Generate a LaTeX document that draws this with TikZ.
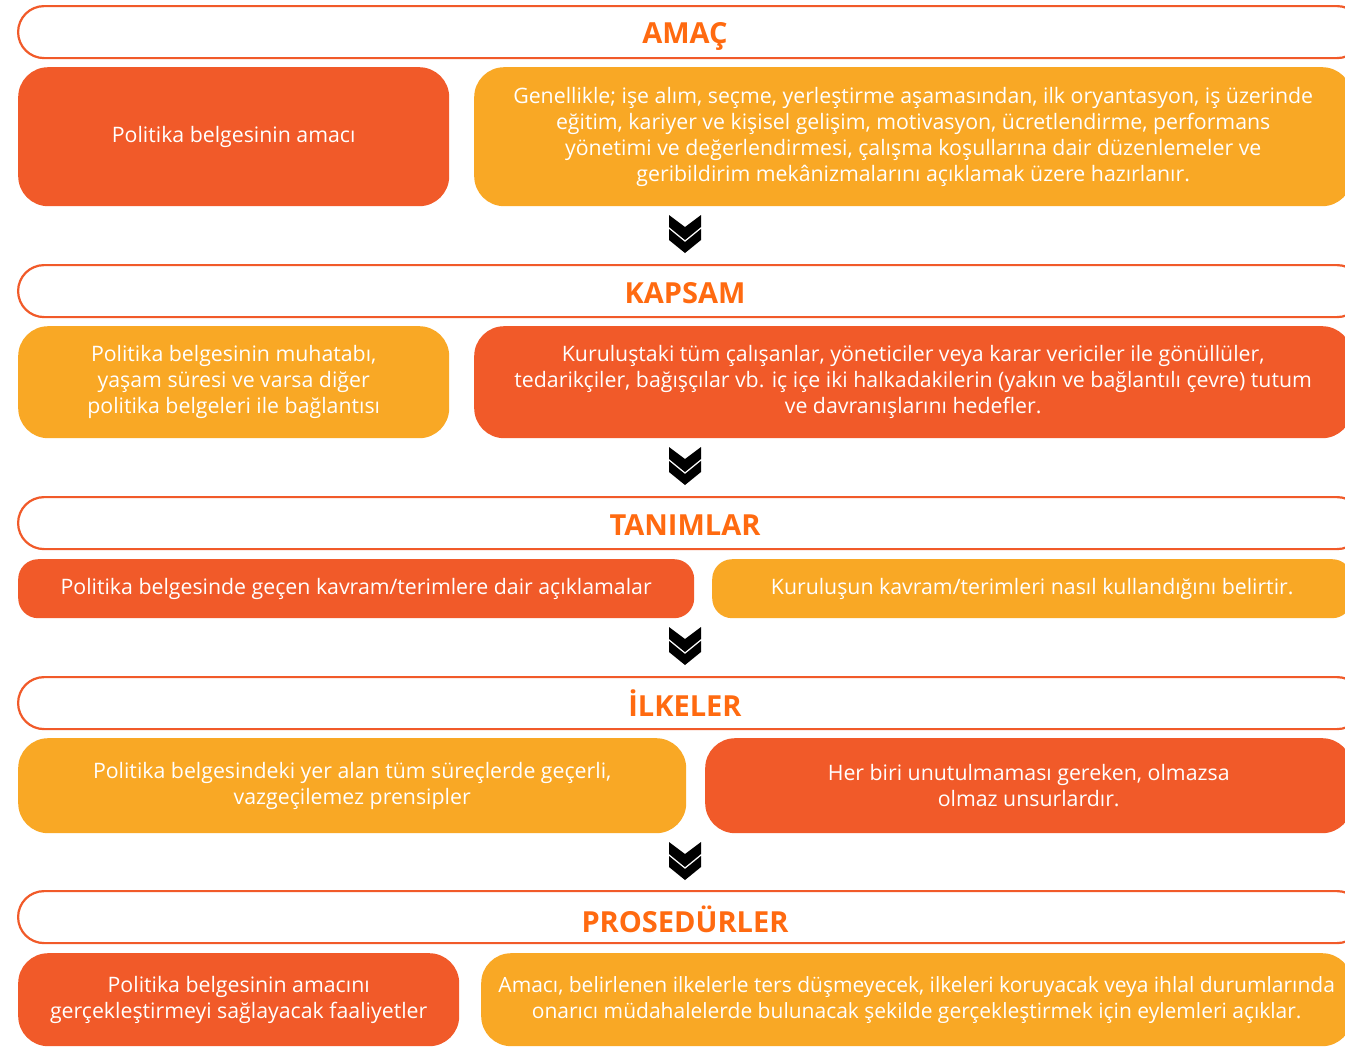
\documentclass[tikz,border=0pt]{standalone}
\usepackage{fontspec}
\setmainfont{Open Sans}
\usepackage{tikz}
\definecolor{koyu}{HTML}{F15A29}
\definecolor{sari}{HTML}{F9A825}
\definecolor{baslik}{HTML}{FF6A10}
\tikzset{
  hdr/.style={draw=koyu, line width=2.2pt, fill=white, rounded corners=26pt,
    minimum height=52pt, anchor=north west},
  htxt/.style={text=baslik, font=\fontsize{29}{34}\selectfont\bfseries},
  kbox/.style={fill=koyu, rounded corners=30pt, anchor=north west, text=white,
    align=center, font=\fontsize{21.3}{26}\selectfont},
  sbox/.style={kbox, fill=sari},
  chev/.pic={
    \fill[black] (-16,0) -- (0,12) -- (16,0) -- (16,12) -- (0,25) -- (-16,12) -- cycle;
    \fill[black] (-16,14) -- (0,27) -- (16,14) -- (16,25) -- (0,38) -- (-16,25) -- cycle;
  }
}
\begin{document}
\begin{tikzpicture}[x=1pt,y=-1pt]
  \clip (0,0) rectangle (1345,1050);
  \fill[white] (0,0) rectangle (1345,1050);
  % AMAC
  \node[hdr, minimum width=1345] (h1) at (17,5) {};
  \node[htxt] (t1) at (685,36) {AMAÇ};
  \node[kbox, minimum width=431, minimum height=139] (l1) at (18,67) {Politika belgesinin amacı};
  \node[sbox, minimum width=878, minimum height=139] (r1) at (474,67)
    {Genellikle; işe alım, seçme, yerleştirme aşamasından, ilk oryantasyon, iş üzerinde\\
     eğitim, kariyer ve kişisel gelişim, motivasyon, ücretlendirme, performans\\
     yönetimi ve değerlendirmesi, çalışma koşullarına dair düzenlemeler ve\\
     geribildirim mekânizmalarını açıklamak üzere hazırlanır.};
  \coordinate (a1) at (685,215);
  \pic at (a1) {chev};
  % KAPSAM
  \node[hdr, minimum width=1345] (h2) at (17,264) {};
  \node[htxt] (t2) at (685,293) {KAPSAM};
  \node[sbox, minimum width=431, minimum height=112] (l2) at (18,326)
    {Politika belgesinin muhatabı,\\ yaşam süresi ve varsa diğer\\ politika belgeleri ile bağlantısı};
  \node[kbox, minimum width=878, minimum height=112] (r2) at (474,326)
    {Kuruluştaki tüm çalışanlar, yöneticiler veya karar vericiler ile gönüllüler,\\
     tedarikçiler, bağışçılar vb. iç içe iki halkadakilerin (yakın ve bağlantılı çevre) tutum\\
     ve davranışlarını hedefler.};
  \coordinate (a2) at (685,447);
  \pic at (a2) {chev};
  % TANIMLAR
  \node[hdr, minimum width=1345] (h3) at (17,496) {};
  \node[htxt] (t3) at (685,525) {TANIMLAR};
  \node[kbox, rounded corners=20pt, minimum width=676, minimum height=59] (l3) at (18,559)
    {Politika belgesinde geçen kavram/terimlere dair açıklamalar};
  \node[sbox, rounded corners=20pt, minimum width=640, minimum height=59] (r3) at (712,559)
    {Kuruluşun kavram/terimleri nasıl kullandığını belirtir.};
  \coordinate (a3) at (685,627);
  \pic at (a3) {chev};
  % ILKELER
  \node[hdr, minimum width=1345] (h4) at (17,676) {};
  \node[htxt] (t4) at (685,703) {İLKELER};
  \node[sbox, minimum width=668, minimum height=95] (l4) at (18,738)
    {Politika belgesindeki yer alan tüm süreçlerde geçerli,\\ vazgeçilemez prensipler};
  \node[kbox, minimum width=647, minimum height=95] (r4) at (705,738)
    {Her biri unutulmaması gereken, olmazsa\\ olmaz unsurlardır.};
  \coordinate (a4) at (685,842);
  \pic at (a4) {chev};
  % PROSEDURLER
  \node[hdr, minimum width=1345] (h5) at (17,890) {};
  \node[htxt] (t5) at (685,919) {PROSEDÜRLER};
  \node[kbox, minimum width=441, minimum height=93] (l5) at (18,953)
    {Politika belgesinin amacını\\ gerçekleştirmeyi sağlayacak faaliyetler};
  \node[sbox, font=\fontsize{21}{26}\selectfont, minimum width=871, minimum height=93] (r5) at (481,953)
    {Amacı, belirlenen ilkelerle ters düşmeyecek, ilkeleri koruyacak veya ihlal durumlarında\\
     onarıcı müdahalelerde bulunacak şekilde gerçekleştirmek için eylemleri açıklar.};
\end{tikzpicture}
\end{document}
